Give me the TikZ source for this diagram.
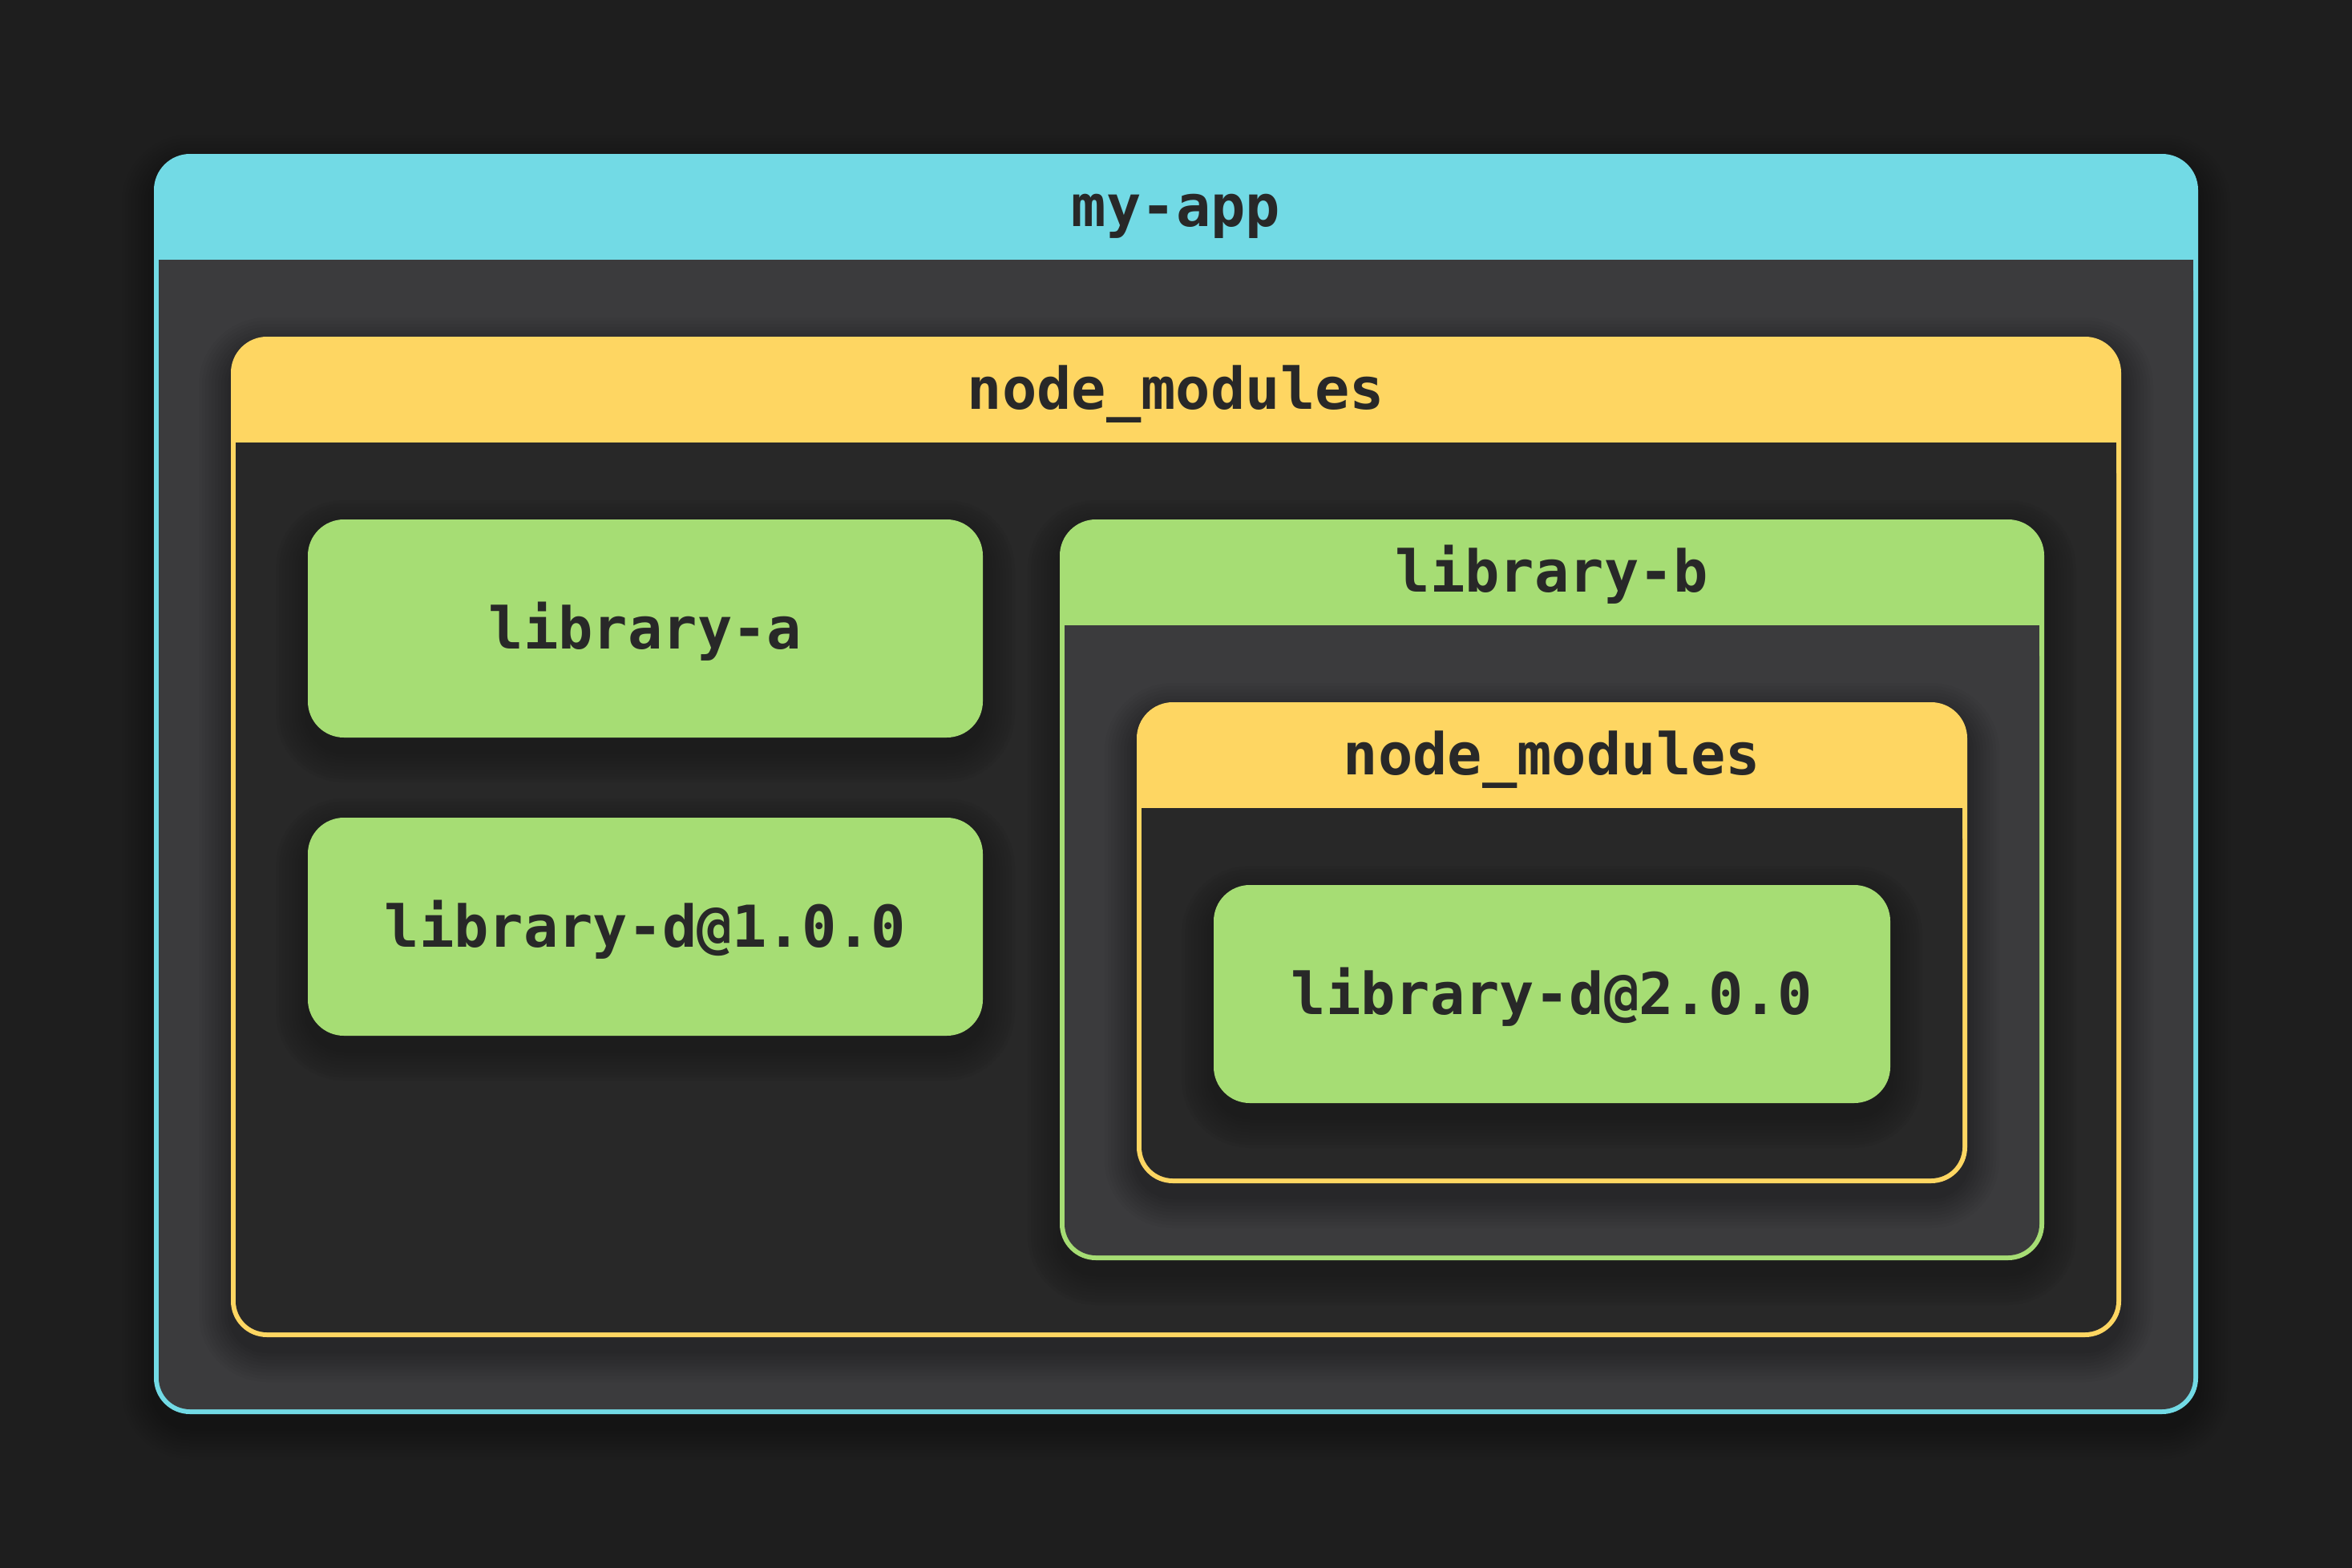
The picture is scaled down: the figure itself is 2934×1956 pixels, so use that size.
\documentclass[tikz,border=0pt]{standalone}
\usepackage{fontspec}
\setmonofont{DejaVu Sans Mono}
\definecolor{bgc}{HTML}{1E1E1E}
\definecolor{cyanh}{HTML}{72DAE5}
\definecolor{yellowh}{HTML}{FED662}
\definecolor{greenh}{HTML}{A6DD74}
\definecolor{bodylight}{HTML}{3B3B3D}
\definecolor{bodydark}{HTML}{282828}
\definecolor{txt}{HTML}{282828}
\tikzset{
  frame/.style={rectangle, rounded corners=45pt, inner sep=0pt, outer sep=0pt, draw=none},
  lbl/.style={font=\ttfamily\bfseries\fontsize{72pt}{86pt}\selectfont, text=txt, anchor=base, inner sep=0pt},
}
\newcommand\softshadow[4]{%
  \foreach \kk in {1,...,10}{%
    \pgfmathsetmacro\rrr{45+\kk*4}%
    \fill[black,opacity=0.028,rounded corners=\rrr pt] ({#1-\kk*4},{#2-\kk*4+16}) rectangle ({#3+\kk*4},{#4+\kk*4+16});}}
% name, x0, y0, x1, y1, header bottom, header colour, body colour, label
\newcommand\container[9]{%
  \softshadow{#2}{#3}{#4}{#5}%
  \pgfmathsetmacro\cwd{#4-#2}\pgfmathsetmacro\cht{#5-#3}%
  \node[frame, fill=#7, minimum width=\cwd pt, minimum height=\cht pt] (#1) at ({(#2+#4)/2},{(#3+#5)/2}) {};
  \fill[#8, rounded corners=39pt] ({#2+6},{#6}) rectangle ({#4-6},{#5-6});
  \fill[#8] ({#2+6},{#6}) rectangle ({#4-6},{#6+60});
  \node[lbl] (#1-t) at ({(#2+#4)/2},{#6-42}) {#9};
}
% name, x0, y0, x1, y1, label
\newcommand\leafbox[6]{%
  \softshadow{#2}{#3}{#4}{#5}%
  \pgfmathsetmacro\cwd{#4-#2}\pgfmathsetmacro\cht{#5-#3}%
  \node[frame, fill=greenh, minimum width=\cwd pt, minimum height=\cht pt] (#1) at ({(#2+#4)/2},{(#3+#5)/2}) {};
  \node[lbl] (#1-t) at ({(#2+#4)/2},{(#3+#5)/2+25}) {#6};
}
\begin{document}
\begin{tikzpicture}[x=1pt,y=-1pt]
  \fill[bgc] (0,0) rectangle (2934,1956);
  \useasboundingbox (0,0) rectangle (2934,1956);
  \container{myapp}{192}{192}{2742}{1764}{324}{cyanh}{bodylight}{my-app}
  \container{nmouter}{288}{420}{2646}{1668}{552}{yellowh}{bodydark}{node\_modules}
  \leafbox{liba}{384}{648}{1226}{920}{library-a}
  \leafbox{libdone}{384}{1020}{1226}{1292}{library-d@1.0.0}
  \container{libb}{1322}{648}{2550}{1572}{780}{greenh}{bodylight}{library-b}
  \container{nminner}{1418}{876}{2454}{1476}{1008}{yellowh}{bodydark}{node\_modules}
  \leafbox{libdtwo}{1514}{1104}{2358}{1376}{library-d@2.0.0}
\end{tikzpicture}
\end{document}
